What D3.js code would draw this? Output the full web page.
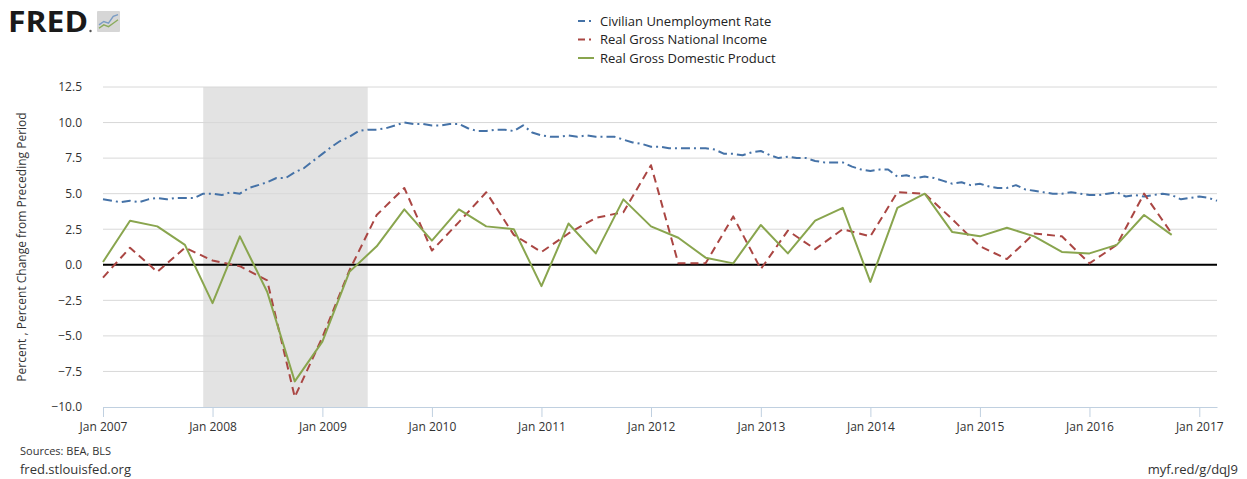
<!DOCTYPE html>
<html>
<head>
<meta charset="utf-8">
<script src="https://cdn.jsdelivr.net/npm/d3@7"></script>
<style>
  body { margin: 0; background: #fff; }
  text { font-family: "Open Sans", "Noto Sans", sans-serif; }
</style>
</head>
<body>
<svg id="chart" width="1247" height="479"></svg>
<script>
// series
const seriesNames = ["Civilian Unemployment Rate", "Real Gross National Income", "Real Gross Domestic Product"];

// monthly, Jan 2007 .. Mar 2017
const unrateStart = "2007-01-01";
const unrate = [
  4.6, 4.5, 4.4, 4.5, 4.4, 4.6, 4.7, 4.6, 4.7, 4.7, 4.7, 5.0,
  5.0, 4.9, 5.1, 5.0, 5.4, 5.6, 5.8, 6.1, 6.1, 6.5, 6.8, 7.3,
  7.8, 8.3, 8.7, 9.0, 9.4, 9.5, 9.5, 9.6, 9.8, 10.0, 9.9, 9.9,
  9.8, 9.8, 9.9, 9.9, 9.6, 9.4, 9.4, 9.5, 9.5, 9.4, 9.8, 9.3,
  9.1, 9.0, 9.0, 9.1, 9.0, 9.1, 9.0, 9.0, 9.0, 8.8, 8.6, 8.5,
  8.3, 8.3, 8.2, 8.2, 8.2, 8.2, 8.2, 8.1, 7.8, 7.8, 7.7, 7.9,
  8.0, 7.7, 7.5, 7.6, 7.5, 7.5, 7.3, 7.2, 7.2, 7.2, 6.9, 6.7,
  6.6, 6.7, 6.7, 6.2, 6.3, 6.1, 6.2, 6.1, 5.9, 5.7, 5.8, 5.6,
  5.7, 5.5, 5.4, 5.4, 5.6, 5.3, 5.2, 5.1, 5.0, 5.0, 5.1, 5.0,
  4.9, 4.9, 5.0, 5.1, 4.8, 4.9, 4.8, 4.9, 5.0, 4.9, 4.6, 4.7,
  4.8, 4.7, 4.5
];

// quarterly, 2007Q1 .. 2016Q4
const quarterStart = "2007-01-01";
const gni = [
  -0.9, 1.2, -0.5, 1.2,
  0.3, -0.1, -1.1, -9.3,
  -5.1, -0.4, 3.5, 5.4,
  1.0, 3.0, 5.1, 2.1,
  0.9, 2.2, 3.3, 3.7,
  7.0, 0.1, 0.1, 3.4,
  -0.3, 2.4, 1.1, 2.5,
  2.0, 5.1, 5.0, 3.2,
  1.3, 0.4, 2.2, 2.0,
  0.1, 1.4, 5.0, 2.2
];
const gdp = [
  0.2, 3.1, 2.7, 1.4,
  -2.7, 2.0, -1.9, -8.2,
  -5.4, -0.5, 1.3, 3.9,
  1.7, 3.9, 2.7, 2.5,
  -1.5, 2.9, 0.8, 4.6,
  2.7, 1.9, 0.5, 0.1,
  2.8, 0.8, 3.1, 4.0,
  -1.2, 4.0, 5.0, 2.3,
  2.0, 2.6, 2.0, 0.9,
  0.8, 1.4, 3.5, 2.1
];

const recession = ["2007-12-01", "2009-06-01"];
const yTicks = [-10, -7.5, -5, -2.5, 0, 2.5, 5, 7.5, 10, 12.5];
const xTickYears = [2007, 2008, 2009, 2010, 2011, 2012, 2013, 2014, 2015, 2016, 2017];

const width = 1247, height = 479;
const margin = {top: 87, right: 30, bottom: 72, left: 103};
const parse = d3.utcParse("%Y-%m-%d");

const svg = d3.select("#chart");

const x = d3.scaleUtc()
    .domain([parse("2007-01-01"), parse("2017-03-01")])
    .range([margin.left, width - margin.right]);
const y = d3.scaleLinear()
    .domain([-10, 12.5])
    .range([height - margin.bottom, margin.top]);

const monthly = unrate.map((v, i) => ({date: d3.utcMonth.offset(parse(unrateStart), i), value: v}));
const quarterly = vals => vals.map((v, i) => ({date: d3.utcMonth.offset(parse(quarterStart), i * 3), value: v}));

// recession band
svg.append("rect")
    .attr("x", x(parse(recession[0])))
    .attr("y", y(12.5))
    .attr("width", x(parse(recession[1])) - x(parse(recession[0])))
    .attr("height", y(-10) - y(12.5))
    .attr("fill", "#e3e3e3");

// grid
svg.append("g")
    .selectAll("line")
    .data(yTicks.filter(d => d !== -10))
    .join("line")
    .attr("x1", margin.left).attr("x2", width - margin.right)
    .attr("y1", d => y(d)).attr("y2", d => y(d))
    .attr("stroke", "#d8d8d8")
    .attr("stroke-width", 1);

// y axis labels
const yAxis = g => g
    .attr("transform", `translate(${margin.left},0)`)
    .call(d3.axisLeft(y).tickValues(yTicks).tickFormat(d3.format(".1f")).tickSize(0).tickPadding(21))
    .call(g => g.select(".domain").remove())
    .call(g => g.selectAll("text")
        .attr("font-family", "'Open Sans', sans-serif")
        .attr("font-size", 12)
        .attr("fill", "#333"));
svg.append("g").call(yAxis);

svg.append("text")
    .attr("transform", `translate(26,${(y(12.5) + y(-10)) / 2}) rotate(-90)`)
    .attr("text-anchor", "middle")
    .attr("font-size", 12)
    .attr("fill", "#333")
    .text("Percent , Percent Change from Preceding Period");

// x axis
const xAxis = g => g
    .attr("transform", `translate(0,${y(-10)})`)
    .call(d3.axisBottom(x)
        .tickValues(xTickYears.map(yr => new Date(Date.UTC(yr, 0, 1))))
        .tickFormat(d3.utcFormat("Jan %Y"))
        .tickSizeInner(10).tickSizeOuter(0).tickPadding(5))
    .call(g => g.select(".domain").attr("stroke", "#c0d0e0"))
    .call(g => g.selectAll(".tick line").attr("stroke", "#c0d0e0"))
    .call(g => g.selectAll("text")
        .attr("font-family", "'Open Sans', sans-serif")
        .attr("font-size", 12)
        .attr("fill", "#333"));
svg.append("g").call(xAxis);

// zero line
svg.append("line")
    .attr("x1", margin.left).attr("x2", width - margin.right)
    .attr("y1", y(0)).attr("y2", y(0))
    .attr("stroke", "#000")
    .attr("stroke-width", 2);

const line = d3.line()
    .x(d => x(d.date))
    .y(d => y(d.value));

const styles = [
  {color: "#4572a7", dash: "9,4,2,4", data: monthly},
  {color: "#aa4643", dash: "8,5", data: quarterly(gni)},
  {color: "#89a54e", dash: null, data: quarterly(gdp)}
];

svg.append("g")
    .selectAll("path")
    .data(styles)
    .join("path")
    .attr("fill", "none")
    .attr("stroke", d => d.color)
    .attr("stroke-width", 2)
    .attr("stroke-dasharray", d => d.dash)
    .attr("stroke-linejoin", "round")
    .attr("d", d => line(d.data));

// legend
const legend = svg.append("g")
    .selectAll("g")
    .data(styles)
    .join("g")
    .attr("transform", (d, i) => `translate(578,${21 + i * 18.5})`);
legend.append("line")
    .attr("x1", 0).attr("x2", 16)
    .attr("stroke", d => d.color)
    .attr("stroke-width", 2)
    .attr("stroke-dasharray", d => d.dash ? "7,4,2,4" : null);
legend.append("text")
    .attr("x", 22)
    .attr("dy", "0.35em")
    .attr("font-size", 13)
    .attr("fill", "#222")
    .text((d, i) => seriesNames[i]);

// FRED logo
svg.append("text")
    .attr("x", 8).attr("y", 32)
    .attr("font-family", "'DejaVu Sans', sans-serif")
    .attr("font-weight", "bold")
    .attr("font-size", 28)
    .attr("textLength", 80)
    .attr("lengthAdjust", "spacingAndGlyphs")
    .attr("fill", "#1a1a1a")
    .text("FRED");
svg.append("circle").attr("cx", 90.5).attr("cy", 31).attr("r", 1.2).attr("fill", "#555");
const logo = svg.append("g").attr("transform", "translate(97,11)");
logo.append("rect").attr("width", 23).attr("height", 21).attr("rx", 1).attr("fill", "#d6d6d6");
const lx = d3.scaleLinear().domain([0, 4]).range([2, 21]);
const ly = d3.scaleLinear().domain([0, 10]).range([19, 2]);
logo.append("path")
    .attr("d", d3.line().x((d, i) => lx(i)).y(d => ly(d))([3, 5, 4, 8, 9]))
    .attr("fill", "none").attr("stroke", "#7a9cc4").attr("stroke-width", 1.4);
logo.append("path")
    .attr("d", d3.line().x((d, i) => lx(i)).y(d => ly(d))([1, 3, 2, 4, 6]))
    .attr("fill", "none").attr("stroke", "#8aab5c").attr("stroke-width", 1.4);

// footer
svg.append("text")
    .attr("x", 20).attr("y", 455)
    .attr("font-size", 11)
    .attr("fill", "#333")
    .text("Sources: BEA, BLS");
svg.append("text")
    .attr("x", 20).attr("y", 474)
    .attr("font-size", 13)
    .attr("fill", "#333")
    .text("fred.stlouisfed.org");
svg.append("text")
    .attr("x", 1238).attr("y", 474)
    .attr("text-anchor", "end")
    .attr("font-size", 13)
    .attr("fill", "#333")
    .text("myf.red/g/dqJ9");
</script>
</body>
</html>
